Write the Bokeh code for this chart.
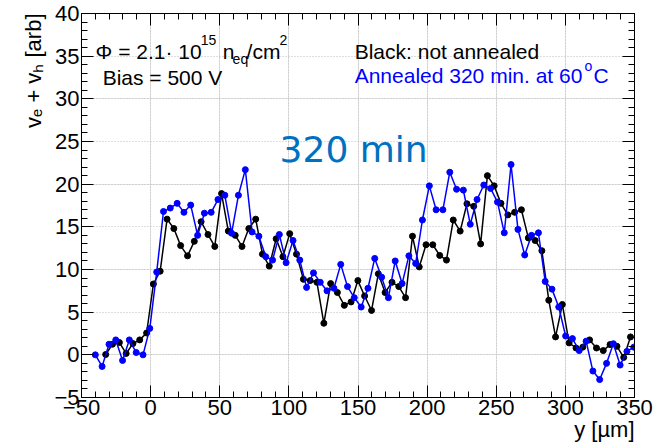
from bokeh.plotting import figure
from bokeh.models import Label, LinearAxis, SingleIntervalTicker, Range1d, Grid, Title
from bokeh.embed import file_html
from bokeh.resources import INLINE

# ---- data ----
blue_x = [-40.0, -35.1, -30.1, -25.2, -20.3, -15.4, -10.4, -5.5, -0.6, 4.4,
          9.3, 14.2, 19.2, 24.1, 29.0, 34.0, 38.9, 43.8, 48.7, 53.7,
          58.6, 63.5, 68.5, 73.4, 78.3, 83.3, 88.2, 93.1, 98.0, 103.0,
          107.9, 112.8, 117.8, 122.7, 127.6, 132.6, 137.5, 142.4, 147.3, 152.3,
          157.2, 162.1, 167.1, 172.0, 176.9, 181.9, 186.8, 191.7, 196.6, 201.6,
          206.5, 211.4, 216.4, 221.3, 226.2, 231.2, 236.1, 241.0, 245.9, 250.9,
          255.8, 260.7, 265.7, 270.6, 275.5, 280.5, 285.4, 290.3, 295.2, 300.2,
          305.1, 310.0, 315.0, 319.9, 324.8, 329.8, 334.7, 339.6, 344.5, 349.5]
blue_y = [0.0, -1.36, 1.24, 1.75, -0.66, 1.75, 0.27, 0.0, 3.1, 9.7,
          16.8, 17.2, 17.75, 16.7, 17.55, 14.0, 16.6, 16.7, 18.2, 18.7,
          14.25, 18.7, 21.7, 14.4, 13.9, 11.5, 11.1, 14.1, 10.8, 13.4,
          11.1, 7.9, 9.6, 8.5, 7.5, 7.8, 10.6, 8.0, 6.7, 5.6,
          7.8, 11.3, 9.1, 6.7, 11.0, 8.35, 11.6, 10.7, 15.8, 19.8,
          17.0, 17.0, 21.4, 19.4, 19.3, 15.3, 18.2, 19.9, 19.5, 17.9,
          14.3, 22.3, 14.7, 11.7, 14.0, 14.3, 8.6, 7.7, 5.6, 2.2,
          1.9, 0.5, 1.6, -1.9, -2.9, -1.0, 1.3, -1.2, 0.4, 0.9]

black_x = [-32.5, -27.6, -22.6, -17.7, -12.8, -7.9, -2.9, 2.0, 6.9, 11.9,
           16.8, 21.7, 26.7, 31.6, 36.5, 41.5, 46.4, 51.3, 56.2, 61.2,
           66.1, 71.0, 76.0, 80.9, 85.8, 90.8, 95.7, 100.6, 105.5, 110.5,
           115.4, 120.3, 125.3, 130.2, 135.1, 140.1, 145.0, 149.9, 154.8, 159.8,
           164.7, 169.6, 174.6, 179.5, 184.4, 189.4, 194.3, 199.2, 204.1, 209.1,
           214.0, 218.9, 223.9, 228.8, 233.7, 238.7, 243.6, 248.5, 253.4, 258.4,
           263.3, 268.2, 273.2, 278.1, 283.0, 288.0, 292.9, 297.8, 302.7, 307.7,
           312.6, 317.5, 322.5, 327.4, 332.3, 337.3, 342.2, 347.1]
black_y = [0.04, 1.24, 1.44, 0.16, 1.32, 1.75, 2.56, 8.3, 9.8, 15.9,
           14.8, 12.8, 11.6, 13.3, 15.6, 14.1, 12.7, 18.9, 14.5, 14.0,
           12.7, 14.8, 15.9, 11.8, 10.4, 13.6, 11.5, 14.2, 11.8, 8.85,
           8.7, 8.5, 3.7, 8.35, 7.3, 5.8, 6.2, 8.7, 6.9, 5.2,
           9.5, 7.3, 8.5, 8.0, 6.7, 13.9, 10.3, 12.9, 12.9, 11.65,
           11.1, 15.8, 14.5, 17.7, 17.4, 13.0, 21.0, 19.8, 17.75, 16.4,
           16.7, 17.0, 13.7, 13.4, 12.2, 6.4, 2.1, 5.9, 1.4, 0.8,
           0.9, 1.75, 0.8, 0.5, 1.2, 1.0, -0.3, 2.1]

x_ticks = [-50, 0, 50, 100, 150, 200, 250, 300, 350]
x_tick_labels = ["\u221250", "0", "50", "100", "150", "200", "250", "300", "350"]
y_ticks = [-5, 0, 5, 10, 15, 20, 25, 30, 35, 40]
y_tick_labels = ["\u22125", "0", "5", "10", "15", "20", "25", "30", "35", "40"]

x_title = "y [\u00b5m]"
y_title = "v\u2091 + v\u2095 [arb]"

FONT = "Liberation Sans"

p = figure(width=658, height=448, x_range=Range1d(-50, 350), y_range=Range1d(-5, 40),
           output_backend="svg", toolbar_location=None,
           min_border_left=81, min_border_right=24, min_border_top=13, min_border_bottom=51,
           x_axis_location=None, y_axis_location=None)
p.background_fill_color = "white"
p.border_fill_color = "white"
p.outline_line_color = "black"
p.outline_line_width = 1


def make_axis(interval, labels_map, show_labels):
    ax = LinearAxis(ticker=SingleIntervalTicker(interval=interval, num_minor_ticks=5))
    ax.major_tick_in = 12
    ax.major_tick_out = 0
    ax.minor_tick_in = 6
    ax.minor_tick_out = 0
    ax.axis_line_color = "black"
    ax.major_tick_line_color = "black"
    ax.minor_tick_line_color = "black"
    if show_labels:
        ax.major_label_text_font = FONT
        ax.major_label_text_font_size = "22px"
        ax.major_label_text_color = "black"
        ax.major_label_standoff = 2
        ax.major_label_overrides = labels_map
    else:
        ax.major_label_text_font_size = "1px"
        ax.major_label_text_color = None
        ax.major_label_standoff = 0
    return ax


x_map = {}
for t, s in zip(x_ticks, x_tick_labels):
    x_map[t] = s
    x_map[str(t)] = s
y_map = {}
for t, s in zip(y_ticks, y_tick_labels):
    y_map[t] = s
    y_map[str(t)] = s

p.add_layout(make_axis(50, x_map, True), "below")
p.add_layout(make_axis(5, y_map, True), "left")
p.add_layout(make_axis(50, x_map, False), "above")
p.add_layout(make_axis(5, y_map, False), "right")

p.add_layout(Grid(dimension=0, ticker=SingleIntervalTicker(interval=50),
                  grid_line_color="#bdbdbd", grid_line_dash="1 2", grid_line_width=1))
p.add_layout(Grid(dimension=1, ticker=SingleIntervalTicker(interval=5),
                  grid_line_color="#bdbdbd", grid_line_dash="1 2", grid_line_width=1))

# axis titles (ROOT style: aligned to the end of the axis)
p.add_layout(Title(text=x_title, align="right", text_font=FONT, text_font_size="22px",
                   text_font_style="normal", text_color="black", standoff=-6), "below")
p.add_layout(Title(text=y_title, align="right", text_font=FONT, text_font_size="22px",
                   text_font_style="normal", text_color="black", standoff=12), "left")

# series
p.line(black_x, black_y, line_color="black", line_width=1.5)
p.scatter(black_x, black_y, marker="circle", size=6, fill_color="black", line_color="black")
p.line(blue_x, blue_y, line_color="blue", line_width=1.5)
p.scatter(blue_x, blue_y, marker="circle", size=6, fill_color="blue", line_color="blue")


def txt(x, y, s, size="21px", color="black", align="left", baseline="alphabetic",
        font=FONT):
    p.add_layout(Label(x=x, y=y, text=s, text_font=font, text_font_size=size,
                       text_color=color, text_align=align, text_baseline=baseline))


# annotations
txt(-39.8, 35.52, "\u03a6 = 2.1\u00b7 10")
txt(36.2, 36.9, "15", size="14px")
txt(52.1, 35.52, "n")
txt(59.3, 34.7, "eq", size="14px")
txt(69.4, 35.52, "/cm")
txt(93.3, 36.9, "2", size="14px")
txt(-34.7, 32.47, "Bias = 500 V")
txt(147.6, 35.52, "Black: not annealed")
txt(147.6, 32.7, "Annealed 320 min. at 60", color="blue")
txt(313.8, 33.8, "o", size="14px", color="blue")
txt(320.3, 32.7, "C", color="blue")

txt(93.3, 24.1, "320 min", size="36px", color="#0070C0", font="DejaVu Sans")

open("out.html", "w").write(file_html(p, INLINE))
